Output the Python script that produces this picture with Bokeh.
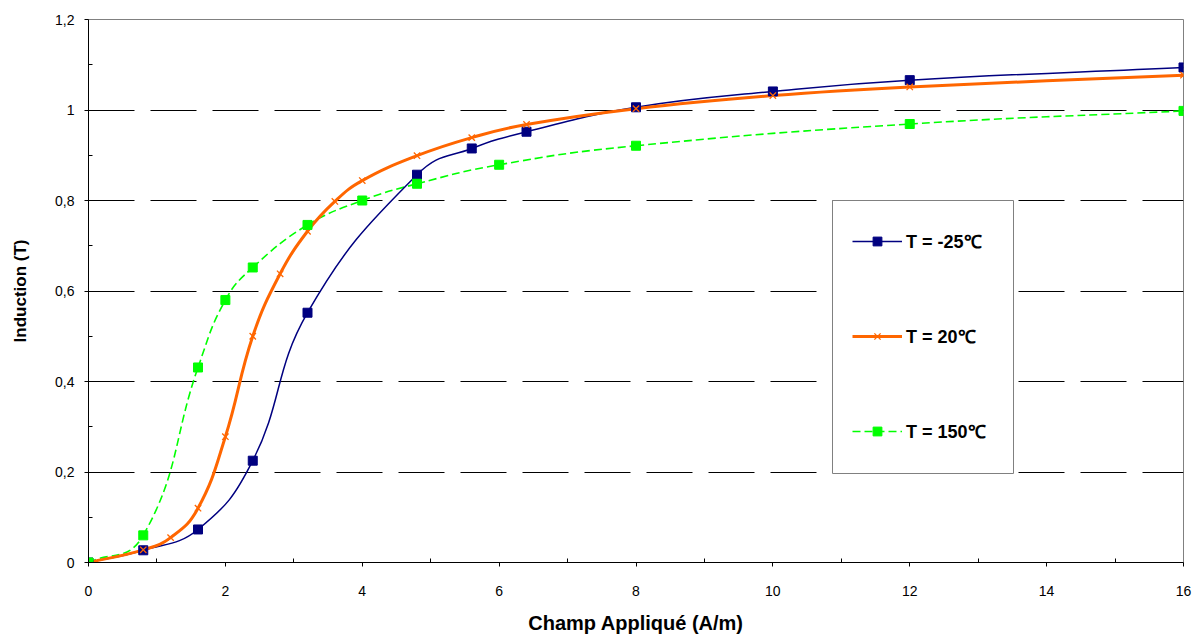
import numpy as np
from bokeh.plotting import figure
from bokeh.models import (FixedTicker, CustomJSTickFormatter, BoxAnnotation,
                          Legend, LegendItem, ColumnDataSource)
from bokeh.embed import file_html
from bokeh.resources import INLINE

# ---------------- data ----------------
h_m25 = [0, 0.8, 1.6, 2.4, 3.2, 4.8, 5.6, 6.4, 8, 10, 12, 16]
b_m25 = [0, 0.027, 0.073, 0.225, 0.552, 0.857, 0.915, 0.952, 1.006, 1.041, 1.066, 1.094]

h_20 = [0, 0.8, 1.2, 1.6, 2.0, 2.4, 2.8, 3.2, 3.6, 4.0, 4.8, 5.6, 6.4, 8, 10, 12, 16]
b_20 = [0, 0.028, 0.055, 0.12, 0.278, 0.5, 0.638, 0.732, 0.798, 0.844, 0.899, 0.939,
        0.968, 1.003, 1.032, 1.051, 1.077]

h_150 = [0, 0.8, 1.6, 2.0, 2.4, 3.2, 4.0, 4.8, 6, 8, 12, 16]
b_150 = [0, 0.06, 0.431, 0.58, 0.652, 0.746, 0.8, 0.837, 0.879, 0.921, 0.969, 0.998]

labels = ["T = -25\u2103", "T = 20\u2103", "T = 150\u2103"]
x_label = "Champ Appliqué (A/m)"
y_label = "Induction (T)"

x_ticks = [0, 2, 4, 6, 8, 10, 12, 14, 16]
x_minor = [1, 3, 5, 7, 9, 11, 13, 15]
y_ticks = [0, 0.2, 0.4, 0.6, 0.8, 1.0, 1.2]
y_minor = [0.1, 0.3, 0.5, 0.7, 0.9, 1.1]
grid_ticks = [0.2, 0.4, 0.6, 0.8, 1.0]

FONT = "Liberation Sans"
X_END, Y_END = 16, 1.2
SX, SY = 1095 / X_END, 543 / Y_END   # approx. pixels per data unit (for smoothing shape only)


def smooth_source(xs, ys, k=0.42):
    """Bezier control points for a smoothed line through the data points."""
    P = np.column_stack([np.asarray(xs, float) * SX, np.asarray(ys, float) * SY])
    n = len(P)
    seg = P[1:] - P[:-1]
    d = np.hypot(seg[:, 0], seg[:, 1])
    T = np.zeros_like(P)
    span = np.zeros(n)
    T[0], span[0] = seg[0] / d[0], d[0]
    T[-1], span[-1] = seg[-1] / d[-1], d[-1]
    for i in range(1, n - 1):
        t = P[i + 1] - P[i - 1]
        span[i] = np.hypot(t[0], t[1])
        T[i] = t / span[i]
    a0 = np.minimum(np.maximum(k * d, span[:-1] / 6), 0.5 * d)
    a1 = np.minimum(np.maximum(k * d, span[1:] / 6), 0.5 * d)
    c0 = P[:-1] + T[:-1] * a0[:, None]
    c1 = P[1:] - T[1:] * a1[:, None]
    return ColumnDataSource(dict(
        x0=P[:-1, 0] / SX, y0=P[:-1, 1] / SY, x1=P[1:, 0] / SX, y1=P[1:, 1] / SY,
        cx0=c0[:, 0] / SX, cy0=c0[:, 1] / SY, cx1=c1[:, 0] / SX, cy1=c1[:, 1] / SY,
    ))


p = figure(width=1195, height=637, x_range=(0, X_END), y_range=(0, Y_END),
           output_backend="svg", toolbar_location=None,
           min_border_left=88, min_border_right=12, min_border_top=19, min_border_bottom=75)
p.background_fill_color = "white"
p.border_fill_color = "white"
p.outline_line_color = "#808080"
p.outline_line_width = 1

# axes
p.xaxis.ticker = FixedTicker(ticks=x_ticks, minor_ticks=x_minor)
p.yaxis.ticker = FixedTicker(ticks=y_ticks, minor_ticks=y_minor)
fmt = CustomJSTickFormatter(code="var s = (Math.round(tick*10)/10).toString(); return s.replace('.', ',');")
p.yaxis.formatter = fmt
p.xaxis.formatter = fmt
for ax in (p.xaxis[0], p.yaxis[0]):
    ax.axis_line_color = "black"
    ax.axis_line_width = 1
    ax.major_tick_line_color = "black"
    ax.minor_tick_line_color = "black"
    ax.major_tick_in = 0
    ax.major_tick_out = 4
    ax.minor_tick_in = 4
    ax.minor_tick_out = 0
    ax.major_label_text_font = FONT
    ax.major_label_text_font_size = "14px"
    ax.major_label_text_color = "black"
    ax.axis_label_text_font = FONT
    ax.axis_label_text_font_style = "bold"
    ax.axis_label_text_color = "black"

p.xaxis.axis_label = x_label
p.yaxis.axis_label = y_label
p.xaxis.axis_label_text_font_size = "20px"
p.yaxis.axis_label_text_font_size = "17px"
p.xaxis.major_label_standoff = 19
p.xaxis.axis_label_standoff = 13
p.yaxis.major_label_standoff = 10
p.yaxis.axis_label_standoff = 22

# grid
p.xgrid.grid_line_color = None
p.ygrid.ticker = FixedTicker(ticks=grid_ticks)
p.ygrid.grid_line_color = "black"
p.ygrid.grid_line_width = 1
p.ygrid.grid_line_dash = "46 16"

# series
s1 = smooth_source(h_m25, b_m25)
s2 = smooth_source(h_20, b_20)
s3 = smooth_source(h_150, b_150)

BZ = dict(x0="x0", y0="y0", x1="x1", y1="y1", cx0="cx0", cy0="cy0", cx1="cx1", cy1="cy1")
l3 = p.bezier(source=s3, line_color="#00FF00", line_width=1.6, line_dash="8 4", **BZ)
l1 = p.bezier(source=s1, line_color="#000080", line_width=1.5, **BZ)
l2 = p.bezier(source=s2, line_color="#FF6600", line_width=3, **BZ)

m1 = p.scatter(h_m25, b_m25, marker="square", size=9, fill_color="#000080", line_color="#000080")
m2 = p.scatter(h_20, b_20, marker="x", size=9, line_color="#FF6600", line_width=1.3)
m3 = p.scatter(h_150, b_150, marker="square", size=9, fill_color="#00FF00", line_color="#00FF00")

# legend frame (screen units, relative to the plot frame's bottom-left)
box = BoxAnnotation(left=744, right=925, bottom=89, top=362,
                    left_units="screen", right_units="screen",
                    bottom_units="screen", top_units="screen",
                    fill_color="white", fill_alpha=1,
                    line_color="#808080", line_width=1, line_alpha=1)
p.add_layout(box)

legend = Legend(items=[LegendItem(label=labels[0], renderers=[l1, m1]),
                       LegendItem(label=labels[1], renderers=[l2, m2]),
                       LegendItem(label=labels[2], renderers=[l3, m3])],
                location=(754, 109))
legend.glyph_width = 50
legend.glyph_height = 22
legend.label_height = 22
legend.label_standoff = 4
legend.spacing = 71
legend.padding = 10
legend.margin = 0
legend.border_line_alpha = 0
legend.background_fill_alpha = 0
legend.label_text_font = FONT
legend.label_text_font_size = "18px"
legend.label_text_font_style = "bold"
legend.label_text_color = "black"
p.add_layout(legend)

open("out.html", "w").write(file_html(p, INLINE))
